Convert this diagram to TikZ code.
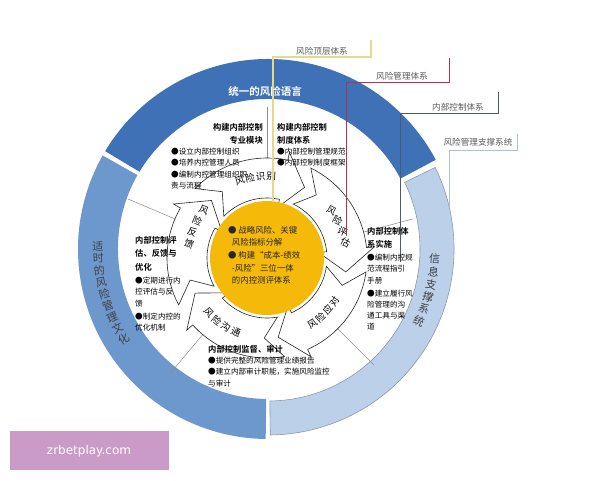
\documentclass[tikz,border=0pt]{standalone}
\usepackage{fontspec}
\newfontfamily\cjk{Noto Sans CJK SC}
\newfontfamily\cjkb{Noto Sans CJK SC Bold}
\definecolor{ringdark}{HTML}{3F71B6}
\definecolor{ringmid}{HTML}{6D98CE}
\definecolor{ringlight}{HTML}{BCD0EA}
\definecolor{sunyel}{HTML}{F5B90A}
\definecolor{cyel}{HTML}{E6D98A}
\definecolor{cred}{HTML}{B0344A}
\definecolor{cgray}{HTML}{4B5B6C}
\definecolor{cblue}{HTML}{A9C1DA}
\definecolor{wm}{HTML}{C99BC6}
\newcommand\annseg[5]{\fill[#5] (#1:#3) arc[start angle=#1,end angle=#2,radius=#3] -- (#2:#4) arc[start angle=#2,end angle=#1,radius=#4] -- cycle;}
\begin{document}
\begin{tikzpicture}[x=1pt,y=-1pt,
  txt/.style={font=\cjk\fontsize{7.6}{11.2}\selectfont, align=left, inner sep=0pt, anchor=north west},
  hd/.style={font=\cjkb\fontsize{8.3}{13.5}\selectfont, inner sep=0pt, anchor=north west, align=left},
  callout/.style={font=\cjk\fontsize{8.6}{10}\selectfont, text=black!65, inner sep=0pt, anchor=south},
  arlab/.style={font=\cjk\fontsize{9.5}{10}\selectfont, inner sep=0pt},
  ringch/.style={font=\cjk\fontsize{11}{12}\selectfont, inner sep=0pt},
  divline/.style={draw=black!45, line width=0.5pt}]
\useasboundingbox (0,0) rectangle (600,480);
% outer ring
\begin{scope}[shift={(268,249)}]
  \annseg{-149}{-28}{190}{150}{ringdark}
  \annseg{-26}{89.3}{186}{152}{ringlight}
  \draw[cblue!80!black, line width=0.6pt] (-26:186) arc[start angle=-26,end angle=89.3,radius=186] -- (89.3:152) arc[start angle=89.3,end angle=-26,radius=152] -- cycle;
  \annseg{90.7}{209.5}{190}{150}{ringmid}
  \fill[white] (0,0) circle[radius=149];
  \node[coordinate] (rc) at (0,0) {};
  \node[font=\cjkb\fontsize{10.5}{11}\selectfont, text=white, inner sep=0pt] (top) at (-3,-158) {统一的风险语言};
  \foreach \c [count=\i] in {适,时,的,风,险,管,理,文,化}{
    \pgfmathsetmacro\ang{185-4.1*\i}
    \pgfmathsetmacro\rot{180-\ang}
    \node[ringch, text=black!75, rotate=\rot] (l\i) at (\ang:170) {\c};}
  \foreach \c [count=\i] in {信,息,支,撑,系,统}{
    \pgfmathsetmacro\ang{-1+4.4*\i}
    \pgfmathsetmacro\rot{-\ang}
    \node[ringch, text=black!75, rotate=\rot] (r\i) at (\ang:167) {\c};}
\end{scope}
% inner arrows and yellow core
\begin{scope}[shift={(267,258)}]
  \foreach \a in {-90,-15,45,130,203}{
    \draw[divline] (\a:100) -- (\a:151);}
  \foreach \t in {-136,-64,8,80,152}{
    \pgfmathsetmacro\ta{\t+58}
    \pgfmathsetmacro\tb{\t+74}
    \pgfmathsetmacro\tc{\t+12}
    \filldraw[fill=white, draw=black!85, line width=0.6pt]
      (\t:60) arc[start angle=\t,end angle=\ta,radius=60] -- (\ta:52) -- (\tb:80) -- (\ta:108) -- (\ta:100)
      arc[start angle=\ta,end angle=\t,radius=100] -- (\tc:80) -- cycle;}
  \fill[sunyel] (0,0) circle[radius=57];
  \node[coordinate] (yc) at (0,0) {};
  \foreach \c [count=\i] in {风,险,识,别}{
    \pgfmathsetmacro\ang{-117+7.5*\i}
    \pgfmathsetmacro\rot{-\ang-90}
    \node[arlab, rotate=\rot] (a1\i) at (\ang:82) {\c};}
  \foreach \c [count=\i] in {风,险,评,估}{
    \pgfmathsetmacro\ang{-45+8.5*\i}
    \node[arlab, rotate=-28] (a2\i) at (\ang:80) {\c};}
  \foreach \c [count=\i] in {风,险,应,对}{
    \pgfmathsetmacro\ang{63-7.5*\i}
    \pgfmathsetmacro\rot{-\ang+90}
    \node[arlab, rotate=\rot] (a3\i) at (\ang:80) {\c};}
  \foreach \c [count=\i] in {风,险,沟,通}{
    \pgfmathsetmacro\ang{145-8*\i}
    \pgfmathsetmacro\rot{-\ang+90}
    \node[arlab, rotate=\rot] (a4\i) at (\ang:80) {\c};}
  \foreach \c [count=\i] in {风,险,反,馈}{
    \pgfmathsetmacro\ang{226-9*\i}
    \node[arlab, rotate=-22] (a5\i) at (\ang:79) {\c};}
\end{scope}
% callout lines
\coordinate (y1) at (371,40); \coordinate (y2) at (371,57); \coordinate (y3) at (273,57); \coordinate (y4) at (273,202);
\draw[cyel, line width=1.2pt] (y1) -- (y2) -- (y3) -- (y4);
\node[callout] (ly) at (322,55) {风险顶层体系};
\coordinate (r1) at (449,58); \coordinate (r2) at (449,82); \coordinate (r3) at (346,82); \coordinate (r4) at (346,236);
\draw[cred, line width=0.9pt] (r1) -- (r2) -- (r3) -- (r4);
\node[callout] (lr) at (402,80) {风险管理体系};
\coordinate (g1) at (498,92); \coordinate (g2) at (498,113); \coordinate (g3) at (400,113); \coordinate (g4) at (400,262);
\draw[cgray, line width=0.9pt] (g1) -- (g2) -- (g3) -- (g4);
\node[callout] (lg) at (458,111) {内部控制体系};
\coordinate (b1) at (517,134); \coordinate (b2) at (517,150); \coordinate (b3) at (449,150); \coordinate (b4) at (449,208);
\draw[cblue, line width=1pt] (b1) -- (b2) -- (b3) -- (b4);
\node[callout] (lb) at (478,146) {风险管理支撑系统};
% text blocks
\node[hd, align=right, anchor=north east] (t1) at (263,123) {构建内部控制\\专业模块};
\node[txt] (t1b) at (171,148) {●设立内部控制组织\\●培养内控管理人员\\●编制内控管理组织职\\责与流程};
\node[hd] (t2) at (277,123) {构建内部控制\\制度体系};
\node[txt] (t2b) at (277,148) {●内部控制管理规范\\●内部控制制度框架};
\node[hd] (t3) at (135,236) {内部控制评\\估、反馈与\\优化};
\node[txt] (t3b) at (135,277) {●定期进行内\\控评估与反\\馈\\[2pt]●制定内控的\\优化机制};
\node[hd] (t4) at (367,227) {内部控制体\\系实施};
\node[txt] (t4b) at (367,254) {●编制内控规\\范流程指引\\手册\\[2pt]●建立履行风\\险管理的沟\\通工具与渠\\道};
\node[hd] (t5) at (208,345) {内部控制监督、审计};
\node[txt] (t5b) at (208,357) {●提供完整的风险管理业绩报告\\●建立内部审计职能，实施风险监控\\与审计};
\node[font=\cjk\fontsize{8.4}{12.6}\selectfont, text=black!85, align=left, inner sep=0pt, anchor=north west] (core) at (228,226) {● 战略风险、关键\\\ \ 风险指标分解\\● 构建“成本-绩效\\\ \ -风险”三位一体\\\ \ 的内控测评体系};
% watermark
\fill[wm] (10,431) rectangle (169,470);
\node[font=\fontspec{DejaVu Sans}\fontsize{12}{12}\selectfont, text=white, inner sep=0pt] (wmk) at (89,451) {zrbetplay.com};
\end{tikzpicture}
\end{document}
